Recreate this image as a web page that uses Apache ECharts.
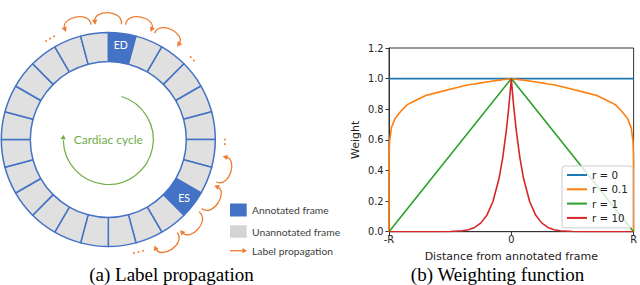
<!DOCTYPE html>
<html><head><meta charset="utf-8">
<script src="https://cdn.jsdelivr.net/npm/echarts@6/dist/echarts.min.js"></script>
<style>html,body{margin:0;padding:0;background:#fff}#c{width:640px;height:285px}</style>
</head><body><div id="c"></div>
<script>
// ---------------- data ----------------
// (a) ring of frames of the cardiac cycle
const frameNames = ['ED','','','','','','','','ES','','','','','','','','','','','','','','',''];
const frameAnnotated = [1,0,0,0,0,0,0,0,1,0,0,0,0,0,0,0,0,0,0,0,0,0,0,0];
const frameSizes = [1,1,1,1,1,1,1,1,1,1,1,1,1,1,1,1,1,1,1,1,1,1,1,1];
// label propagation arrows: [from frame, to frame]
const propagation = [[0,-1],[-1,-2],[0,1],[1,2],[8,7],[7,6],[8,9],[9,10]];
// ellipsis positions (in frame units)
const ellipsisAt = [-2.5, 2.5, 5.5, 10.5];
const ringLegend = ['Annotated frame','Unannotated frame','Label propagation'];
const centerText = 'Cardiac cycle';
const captionA = '(a) Label propagation';
const captionB = '(b) Weighting function';

// (b) weighting function
const seriesNames = ['r = 0','r = 0.1','r = 1','r = 10'];
const xR0 = [-1, 1];
const yR0 = [1, 1];
const xR1 = [-1, 0, 1];
const yR1 = [0, 1, 0];
const xCurve = [-1,-0.999,-0.995,-0.98,-0.95,-0.9,-0.85,-0.8,-0.7,-0.6,-0.5,-0.4,-0.35,-0.3,-0.25,-0.2,-0.15,-0.1,-0.07,-0.04,-0.02,-0.01,0,
                0.01,0.02,0.04,0.07,0.1,0.15,0.2,0.25,0.3,0.35,0.4,0.5,0.6,0.7,0.8,0.85,0.9,0.95,0.98,0.995,0.999,1];
const yR01 = [0,0.50,0.59,0.68,0.74,0.79,0.83,0.85,0.89,0.91,0.93,0.95,0.96,0.965,0.972,0.978,0.984,0.99,0.993,0.996,0.998,0.999,1,
              0.999,0.998,0.996,0.993,0.99,0.984,0.978,0.972,0.965,0.96,0.95,0.93,0.91,0.89,0.85,0.83,0.79,0.74,0.68,0.59,0.50,0];
const yR10 = [0,0,0,0,0,0,0,0,0,0,0.001,0.006,0.013,0.028,0.056,0.107,0.197,0.349,0.484,0.665,0.817,0.904,1,
              0.904,0.817,0.665,0.484,0.349,0.197,0.107,0.056,0.028,0.013,0.006,0.001,0,0,0,0,0,0,0,0,0,0];
const xTickLabels = {'-1':'-R','0':'0','1':'R'};
const yTicks = [0,0.2,0.4,0.6,0.8,1.0,1.2];
const xLabel = 'Distance from annotated frame';
const yLabel = 'Weight';

// ---------------- drawing ----------------
const BLUE = '#4472c4', ORANGE = '#ed7d31', GREEN = '#70ad47', GRAY = '#e0e0e0';
const CX = 108.3, CY = 139.5, R_IN = 78, R_OUT = 107;
const step = 360 / frameSizes.length;
function polar(deg, r){ const a = deg*Math.PI/180; return [CX + r*Math.sin(a), CY - r*Math.cos(a)]; }
function frameAngle(f){ return f*step + step/2; }
function arrowHead(tip, dir, L, W, color){
  const n = [-dir[1], dir[0]];
  const b = [tip[0]-L*dir[0], tip[1]-L*dir[1]];
  return {type:'polygon', silent:true, shape:{points:[tip,[b[0]+W*n[0],b[1]+W*n[1]],[b[0]-W*n[0],b[1]-W*n[1]]]}, style:{fill:color}};
}
const g = [];
propagation.forEach(([a,b]) => {
  const d = Math.sign(b-a);
  const a0 = frameAngle(a) + d*1.0, a1 = frameAngle(b) - d*1.0;
  const p0 = polar(a0,116), p1 = polar(a1,115.5), c0 = polar(a0,131), c1 = polar(a1,131);
  let dx = p1[0]-c1[0], dy = p1[1]-c1[1]; const len = Math.hypot(dx,dy); dx/=len; dy/=len;
  const L = 5;
  const e = [p1[0]-L*0.7*dx, p1[1]-L*0.7*dy];
  g.push({type:'bezierCurve', silent:true, shape:{x1:p0[0],y1:p0[1],x2:e[0],y2:e[1],cpx1:c0[0],cpy1:c0[1],cpx2:c1[0],cpy2:c1[1]},
          style:{stroke:ORANGE, lineWidth:1.3, fill:null}});
  g.push(arrowHead(p1,[dx,dy],L,2.7,ORANGE));
});
ellipsisAt.forEach(f => {
  [-2.3,0,2.3].forEach(k => {
    const p = polar(frameAngle(f)+k, 116.5);
    g.push({type:'circle', silent:true, shape:{cx:p[0], cy:p[1], r:0.95}, style:{fill:ORANGE}});
  });
});
// cardiac cycle arc
const RG = 45;
g.push({type:'arc', silent:true, shape:{cx:CX, cy:CY, r:RG, startAngle:(17-90)*Math.PI/180, endAngle:(269-90)*Math.PI/180, clockwise:true},
        style:{stroke:GREEN, fill:null, lineWidth:1.2}});
(function(){
  const th = 276*Math.PI/180;
  const tip = [CX + RG*Math.sin(th), CY - RG*Math.cos(th)];
  g.push(arrowHead(tip,[Math.cos(th),Math.sin(th)],4.5,2.6,GREEN));
})();
g.push({type:'text', silent:true, style:{text:centerText, x:CX, y:CY, fill:GREEN, fontSize:12, fontFamily:'Lato', align:'center', verticalAlign:'middle'}});
// ring legend
g.push({type:'rect', silent:true, shape:{x:230, y:203.5, width:16.7, height:13}, style:{fill:BLUE}});
g.push({type:'rect', silent:true, shape:{x:230, y:225.3, width:16.7, height:12.4}, style:{fill:'#d4d4d4'}});
g.push({type:'line', silent:true, shape:{x1:230, y1:250.7, x2:243, y2:250.7}, style:{stroke:ORANGE, lineWidth:1.3}});
g.push(arrowHead([247,250.7],[1,0],4.5,2.6,ORANGE));
[210, 231.5, 250.5].forEach((y,i) => {
  g.push({type:'text', silent:true, style:{text:ringLegend[i], x:252, y:y, fill:'#404040', fontSize:10.3, fontFamily:'Lato', align:'left', verticalAlign:'middle'}});
});
// captions
g.push({type:'text', silent:true, style:{text:captionA, x:171.5, y:274.5, fill:'#000', fontSize:19, fontFamily:'Liberation Serif', align:'center', verticalAlign:'middle'}});
g.push({type:'text', silent:true, style:{text:captionB, x:497.5, y:274.5, fill:'#000', fontSize:19, fontFamily:'Liberation Serif', align:'center', verticalAlign:'middle'}});

const pieData = frameSizes.map((v,i) => ({
  value: v, name: frameNames[i],
  itemStyle: {color: frameAnnotated[i] ? BLUE : GRAY},
  label: {show: !!frameAnnotated[i]}
}));

const tickFont = {fontFamily:'DejaVu Sans', fontSize:9.8, color:'#222'};
const chart = echarts.init(document.getElementById('c'), null, {renderer:'svg', width:640, height:285});
chart.setOption({
  animation:false,
  backgroundColor:'#fff',
  grid:{left:389, right:4, top:48, bottom:53.3, show:true, borderColor:'#333', borderWidth:1, backgroundColor:'transparent'},
  legend:{
    data:seriesNames, orient:'vertical', left:562, top:166, icon:'rect', itemWidth:20, itemHeight:2, itemGap:2.3,
    padding:[3,5,4,5], backgroundColor:'rgba(255,255,255,0.8)', borderColor:'#ccc', borderWidth:1, borderRadius:3,
    textStyle:{fontFamily:'DejaVu Sans', fontSize:10.3, color:'#222', lineHeight:12}, selectedMode:false
  },
  xAxis:{type:'value', min:-1, max:1, interval:1,
    axisLine:{show:true, onZero:false, lineStyle:{color:'#333', width:1}}, axisTick:{show:true, length:3.5, lineStyle:{color:'#333'}},
    splitLine:{show:false},
    axisLabel:Object.assign({margin:3, formatter:v => xTickLabels[String(v)] ?? ''}, tickFont),
    name:xLabel, nameLocation:'middle', nameGap:19, nameTextStyle:{fontFamily:'DejaVu Sans', fontSize:11, color:'#222'}},
  yAxis:{type:'value', min:yTicks[0], max:yTicks[yTicks.length-1], interval:0.2,
    axisLine:{show:true, onZero:false, lineStyle:{color:'#333', width:1}}, axisTick:{show:true, length:3.5, lineStyle:{color:'#333'}},
    splitLine:{show:false},
    axisLabel:Object.assign({margin:5.5, formatter:v => v.toFixed(1)}, tickFont),
    name:yLabel, nameLocation:'middle', nameGap:28, nameTextStyle:{fontFamily:'DejaVu Sans', fontSize:11, color:'#222'}},
  series:[
    {name:seriesNames[0], type:'line', showSymbol:false, data:xR0.map((x,i)=>[x,yR0[i]]), lineStyle:{color:'#1f77b4', width:1.6}, itemStyle:{color:'#1f77b4'}, silent:true},
    {name:seriesNames[1], type:'line', showSymbol:false, data:xCurve.map((x,i)=>[x,yR01[i]]), lineStyle:{color:'#ff7f0e', width:1.6}, itemStyle:{color:'#ff7f0e'}, silent:true},
    {name:seriesNames[2], type:'line', showSymbol:false, data:xR1.map((x,i)=>[x,yR1[i]]), lineStyle:{color:'#2ca02c', width:1.6}, itemStyle:{color:'#2ca02c'}, silent:true},
    {name:seriesNames[3], type:'line', showSymbol:false, data:xCurve.map((x,i)=>[x,yR10[i]]), lineStyle:{color:'#d62728', width:1.6}, itemStyle:{color:'#d62728'}, silent:true},
    {type:'pie', center:[CX,CY], radius:[R_IN,R_OUT], startAngle:90, clockwise:true, silent:true, avoidLabelOverlap:false,
     itemStyle:{borderColor:BLUE, borderWidth:1.5},
     label:{position:'inside', formatter:'{b}', color:'#fff', fontSize:10.5, fontFamily:'Lato'},
     labelLine:{show:false}, emphasis:{disabled:true}, data:pieData}
  ],
  graphic:{elements:g}
});
</script></body></html>
